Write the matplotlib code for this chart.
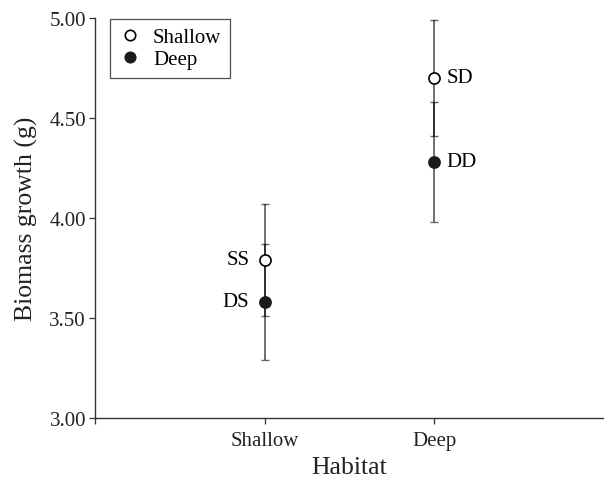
import matplotlib
matplotlib.use("Agg")
import matplotlib.pyplot as plt
from matplotlib.lines import Line2D

plt.rcParams['font.family'] = ['Liberation Serif', 'DejaVu Serif']

habitats = ["Shallow", "Deep"]
habitat_x = [1, 2]
# origin population values per habitat
shallow_origin = [3.79, 4.70]
shallow_err = [0.28, 0.29]
deep_origin = [3.58, 4.28]
deep_err = [0.29, 0.30]
shallow_labels = ["SS", "SD"]
deep_labels = ["DS", "DD"]
yticks = [3.00, 3.50, 4.00, 4.50, 5.00]

fig = plt.figure(figsize=(6.04, 4.81), dpi=100)
ax = fig.add_axes([0.1573, 0.1289, 0.8427, 0.8316])

errcol = (0, 0, 0, 0.6)
ax.errorbar(habitat_x, shallow_origin, yerr=shallow_err, fmt='none', ecolor=errcol,
            elinewidth=1.3, capsize=3, capthick=1.0, zorder=2)
ax.errorbar(habitat_x, deep_origin, yerr=deep_err, fmt='none', ecolor=errcol,
            elinewidth=1.3, capsize=3, capthick=1.0, zorder=2)
ax.plot(habitat_x, shallow_origin, 'o', ms=8, mfc='white', mec='black', mew=1.2,
        linestyle='none', zorder=3)
ax.plot(habitat_x, deep_origin, 'o', ms=8, mfc='#1a1a1a', mec='#1a1a1a', mew=1.2,
        linestyle='none', zorder=3)

fs = 15
for i, x in enumerate(habitat_x):
    if i == 0:
        ax.annotate(shallow_labels[i], (x, shallow_origin[i]), xytext=(-11, 0),
                    textcoords='offset points', ha='right', va='center', fontsize=fs)
        ax.annotate(deep_labels[i], (x, deep_origin[i]), xytext=(-11, 0),
                    textcoords='offset points', ha='right', va='center', fontsize=fs)
    else:
        ax.annotate(shallow_labels[i], (x, shallow_origin[i]), xytext=(9, 0),
                    textcoords='offset points', ha='left', va='center', fontsize=fs)
        ax.annotate(deep_labels[i], (x, deep_origin[i]), xytext=(9, 0),
                    textcoords='offset points', ha='left', va='center', fontsize=fs)

ax.set_xlim(0, 3)
ax.set_ylim(3.0, 5.0)
ax.set_xticks([0] + habitat_x)
ax.set_xticklabels([""] + habitats, fontsize=fs)
ax.set_yticks(yticks)
ax.set_yticklabels([f"{v:.2f}" for v in yticks], fontsize=fs)
ax.tick_params(direction='out', length=4.5, width=0.9, colors='#333333', labelcolor='#222222')
ax.tick_params(axis='y', pad=2)
ax.tick_params(axis='x', pad=5)
for s in ['top', 'right']:
    ax.spines[s].set_visible(False)
for s in ['left', 'bottom']:
    ax.spines[s].set_linewidth(1.0)
    ax.spines[s].set_color('#333333')

ax.set_xlabel("Habitat", fontsize=18.5, color='#222222', labelpad=4)
ax.set_ylabel("Biomass growth (g)", fontsize=18.5, color='#222222', labelpad=8.5)

handles = [
    Line2D([], [], marker='o', ls='none', ms=7.5, mfc='white', mec='black', mew=1.2, label='Shallow'),
    Line2D([], [], marker='o', ls='none', ms=7.5, mfc='#1a1a1a', mec='#1a1a1a', mew=1.2, label='Deep'),
]
leg = ax.legend(handles=handles, loc='upper left', bbox_to_anchor=(0.029, 0.997),
                frameon=True, fancybox=False, fontsize=fs, handletextpad=0.57,
                borderpad=0.4, labelspacing=0.12, handlelength=1.1, borderaxespad=0)
leg.get_frame().set_edgecolor('#222222')
leg.get_frame().set_linewidth(0.9)

fig.savefig("out.png", dpi=100)
